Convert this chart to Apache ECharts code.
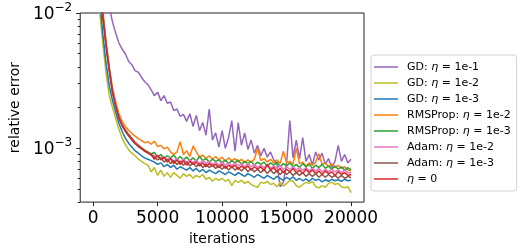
<!DOCTYPE html>
<html>
<head>
<meta charset="utf-8">
<script src="https://cdn.jsdelivr.net/npm/echarts@6/dist/echarts.min.js"></script>
<style>html,body{margin:0;padding:0;background:#fff}#c{width:523px;height:251px}</style>
</head>
<body>
<div id="c"></div>
<script>
const iterations = [0,250,500,750,1000,1250,1500,1750,2000,2250,2500,2750,3000,3250,3500,3750,4000,4250,4500,4750,5000,5250,5500,5750,6000,6250,6500,6750,7000,7250,7500,7750,8000,8250,8500,8750,9000,9250,9500,9750,10000,10250,10500,10750,11000,11250,11500,11750,12000,12250,12500,12750,13000,13250,13500,13750,14000,14250,14500,14750,15000,15250,15500,15750,16000,16250,16500,16750,17000,17250,17500,17750,18000,18250,18500,18750,19000,19250,19500,19750,20000];

const gd_1e1 = [0.06,0.04,0.028,0.02,0.0148,0.0112,8.6e-3,7.1e-3,6.0e-3,5.4e-3,5.0e-3,4.4e-3,4.15e-3,3.75e-3,3.65e-3,3.35e-3,3.1e-3,2.95e-3,2.7e-3,2.45e-3,2.6e-3,2.25e-3,2.45e-3,2.15e-3,2.2e-3,1.9e-3,1.95e-3,1.72e-3,1.78e-3,1.58e-3,1.8e-3,1.45e-3,1.75e-3,1.35e-3,1.55e-3,1.25e-3,1.95e-3,1.15e-3,1.3e-3,1.02e-3,1.35e-3,1.0e-3,1.2e-3,1.6e-3,0.95e-3,1.55e-3,1.05e-3,1.3e-3,0.98e-3,1.15e-3,9.2e-4,1.05e-3,8.8e-4,1.0e-3,8.6e-4,9.4e-4,8.2e-4,7.6e-4,5.2e-4,5.6e-4,7.8e-4,1.6e-3,8.5e-4,1.15e-3,8.4e-4,1.2e-3,8.0e-4,9.0e-4,7.5e-4,9.4e-4,8.2e-4,9.2e-4,7.6e-4,8.4e-4,7.2e-4,8.0e-4,1.05e-3,8.0e-4,9.0e-4,7.8e-4,8.3e-4];

const gd_1e2 = [0.05,0.022,0.0105,6.0e-3,3.6e-3,2.45e-3,2.0e-3,1.66e-3,1.38e-3,1.19e-3,1.06e-3,9.8e-4,9.2e-4,8.8e-4,8.3e-4,8.0e-4,7.7e-4,7.5e-4,6.7e-4,7.2e-4,6.3e-4,6.9e-4,6.2e-4,6.6e-4,6.1e-4,6.6e-4,6.3e-4,6.0e-4,6.5e-4,6.2e-4,6.4e-4,6.0e-4,6.3e-4,6.1e-4,6.4e-4,5.9e-4,6.1e-4,5.7e-4,6.0e-4,5.8e-4,6.0e-4,5.7e-4,5.9e-4,5.3e-4,5.8e-4,5.6e-4,5.8e-4,5.5e-4,5.7e-4,5.4e-4,5.25e-4,5.15e-4,5.6e-4,5.5e-4,5.7e-4,5.4e-4,5.5e-4,5.2e-4,5.6e-4,5.25e-4,5.5e-4,5.8e-4,5.7e-4,5.3e-4,5.15e-4,5.4e-4,5.6e-4,5.5e-4,5.7e-4,5.2e-4,5.1e-4,5.3e-4,5.15e-4,5.5e-4,5.6e-4,5.4e-4,5.5e-4,5.2e-4,5.1e-4,5.2e-4,4.7e-4];

const gd_1e3 = [0.06,0.028,0.013,7.0e-3,4.3e-3,2.9e-3,2.25e-3,1.85e-3,1.53e-3,1.33e-3,1.19e-3,1.09e-3,1.02e-3,9.6e-4,9.2e-4,8.8e-4,8.5e-4,8.3e-4,8.1e-4,7.9e-4,7.6e-4,7.8e-4,7.3e-4,7.6e-4,7.2e-4,7.5e-4,7.0e-4,7.3e-4,7.1e-4,6.9e-4,7.2e-4,6.8e-4,7.1e-4,6.7e-4,7.0e-4,6.6e-4,6.9e-4,6.7e-4,6.5e-4,6.8e-4,6.6e-4,6.4e-4,6.7e-4,6.5e-4,6.3e-4,6.6e-4,6.4e-4,6.2e-4,6.5e-4,6.3e-4,6.1e-4,6.4e-4,6.2e-4,6.0e-4,6.3e-4,6.1e-4,5.9e-4,6.2e-4,6.0e-4,5.8e-4,6.1e-4,5.9e-4,6.15e-4,5.8e-4,6.0e-4,5.75e-4,5.95e-4,5.7e-4,6.0e-4,5.8e-4,5.9e-4,5.65e-4,5.85e-4,5.7e-4,5.9e-4,5.75e-4,5.85e-4,5.7e-4,5.9e-4,5.75e-4,5.8e-4];

const rms_1e2 = [0.09,0.045,0.021,0.0105,6.2e-3,4.0e-3,2.8e-3,2.2e-3,1.8e-3,1.58e-3,1.45e-3,1.36e-3,1.29e-3,1.23e-3,1.18e-3,1.14e-3,1.10e-3,1.12e-3,1.07e-3,1.13e-3,1.03e-3,1.05e-3,9.9e-4,1.02e-3,9.4e-4,9.0e-4,9.4e-4,1.12e-3,9.0e-4,9.6e-4,8.7e-4,1.04e-3,9.4e-4,8.6e-4,8.9e-4,8.4e-4,8.8e-4,8.3e-4,8.7e-4,8.2e-4,8.6e-4,8.0e-4,8.5e-4,8.1e-4,8.4e-4,7.9e-4,8.3e-4,7.8e-4,8.2e-4,7.9e-4,8.3e-4,1.0e-3,8.1e-4,8.4e-4,7.9e-4,8.3e-4,7.8e-4,8.2e-4,7.7e-4,9.5e-4,7.8e-4,8.0e-4,7.6e-4,1.0e-3,7.7e-4,7.9e-4,7.4e-4,7.8e-4,7.5e-4,7.9e-4,9.1e-4,7.6e-4,7.8e-4,7.3e-4,7.7e-4,7.2e-4,7.5e-4,7.1e-4,7.3e-4,6.9e-4,6.8e-4];

const rms_1e3 = [0.085,0.042,0.02,0.0100,6.0e-3,3.9e-3,2.7e-3,2.1e-3,1.72e-3,1.5e-3,1.37e-3,1.27e-3,1.19e-3,1.11e-3,1.06e-3,1.01e-3,9.7e-4,9.4e-4,9.1e-4,9.3e-4,8.6e-4,9.0e-4,8.4e-4,8.8e-4,8.5e-4,8.9e-4,8.3e-4,8.7e-4,8.2e-4,8.6e-4,8.1e-4,8.5e-4,8.0e-4,8.7e-4,8.1e-4,8.4e-4,7.9e-4,8.3e-4,8.0e-4,8.2e-4,7.8e-4,8.2e-4,7.7e-4,8.1e-4,7.8e-4,8.2e-4,7.6e-4,8.0e-4,7.7e-4,8.0e-4,7.5e-4,7.9e-4,7.6e-4,7.9e-4,7.4e-4,7.8e-4,7.5e-4,7.9e-4,7.3e-4,7.7e-4,7.4e-4,7.8e-4,7.3e-4,7.6e-4,7.2e-4,7.7e-4,7.3e-4,7.6e-4,7.1e-4,7.5e-4,7.2e-4,7.6e-4,7.1e-4,7.4e-4,7.0e-4,7.4e-4,7.0e-4,7.3e-4,6.9e-4,7.2e-4,6.9e-4];

const adam_1e2 = [0.082,0.041,0.0195,0.0098,5.9e-3,3.85e-3,2.65e-3,2.08e-3,1.7e-3,1.49e-3,1.36e-3,1.26e-3,1.18e-3,1.1e-3,1.05e-3,1.0e-3,9.6e-4,9.3e-4,9.0e-4,8.8e-4,8.7e-4,8.4e-4,8.6e-4,8.2e-4,8.5e-4,8.0e-4,8.4e-4,7.9e-4,8.3e-4,7.9e-4,8.2e-4,7.8e-4,8.2e-4,7.7e-4,8.1e-4,7.7e-4,8.0e-4,7.6e-4,7.9e-4,7.5e-4,7.9e-4,7.5e-4,7.8e-4,7.4e-4,7.8e-4,7.4e-4,7.7e-4,7.3e-4,7.7e-4,7.3e-4,7.6e-4,7.2e-4,7.5e-4,7.2e-4,7.5e-4,7.1e-4,7.4e-4,7.1e-4,7.4e-4,7.0e-4,7.3e-4,7.0e-4,7.3e-4,6.9e-4,7.2e-4,6.9e-4,7.2e-4,6.8e-4,7.1e-4,6.8e-4,7.1e-4,6.7e-4,7.0e-4,6.7e-4,7.0e-4,6.7e-4,6.9e-4,6.6e-4,6.9e-4,6.6e-4,6.6e-4];

const adam_1e3 = [0.08,0.04,0.019,0.0095,5.75e-3,3.75e-3,2.58e-3,2.03e-3,1.66e-3,1.46e-3,1.33e-3,1.23e-3,1.15e-3,1.08e-3,1.03e-3,9.9e-4,9.5e-4,9.2e-4,8.9e-4,8.6e-4,8.2e-4,8.5e-4,7.9e-4,8.3e-4,7.7e-4,8.1e-4,7.6e-4,8.0e-4,7.5e-4,7.9e-4,7.4e-4,7.8e-4,7.3e-4,7.7e-4,7.2e-4,7.6e-4,7.2e-4,7.5e-4,7.1e-4,7.4e-4,7.0e-4,7.4e-4,6.9e-4,7.3e-4,6.9e-4,7.2e-4,6.8e-4,7.2e-4,6.7e-4,7.1e-4,6.7e-4,7.0e-4,6.6e-4,7.0e-4,6.5e-4,6.9e-4,6.5e-4,6.8e-4,6.4e-4,6.8e-4,6.4e-4,6.7e-4,6.3e-4,6.6e-4,6.3e-4,6.6e-4,6.2e-4,6.5e-4,6.2e-4,6.5e-4,6.1e-4,6.4e-4,6.1e-4,6.4e-4,6.1e-4,6.3e-4,6.0e-4,6.3e-4,6.0e-4,6.2e-4,6.05e-4];

const eta_0 = [0.08,0.04,0.019,0.0095,5.8e-3,3.8e-3,2.6e-3,2.05e-3,1.68e-3,1.48e-3,1.35e-3,1.25e-3,1.17e-3,1.09e-3,1.04e-3,1.0e-3,9.6e-4,9.3e-4,9.0e-4,8.3e-4,8.9e-4,8.2e-4,8.6e-4,7.9e-4,8.4e-4,7.7e-4,8.2e-4,7.6e-4,8.1e-4,7.5e-4,8.0e-4,7.6e-4,7.9e-4,7.4e-4,7.8e-4,7.3e-4,7.7e-4,7.4e-4,7.6e-4,7.2e-4,7.6e-4,7.1e-4,7.5e-4,7.2e-4,7.5e-4,7.0e-4,7.4e-4,7.1e-4,7.4e-4,6.9e-4,7.3e-4,7.0e-4,7.3e-4,6.8e-4,7.6e-4,6.9e-4,7.2e-4,6.7e-4,7.1e-4,6.6e-4,7.0e-4,6.7e-4,7.1e-4,6.6e-4,6.9e-4,6.5e-4,7.0e-4,6.6e-4,6.9e-4,6.5e-4,6.8e-4,6.4e-4,6.8e-4,6.5e-4,6.7e-4,6.3e-4,6.7e-4,6.4e-4,6.6e-4,6.3e-4,6.4e-4];

const seriesNames = ['GD: {i|η} = 1e-1','GD: {i|η} = 1e-2','GD: {i|η} = 1e-3','RMSProp: {i|η} = 1e-2','RMSProp: {i|η} = 1e-3','Adam: {i|η} = 1e-2','Adam: {i|η} = 1e-3','{i|η} = 0'];
const seriesData = [gd_1e1, gd_1e2, gd_1e3, rms_1e2, rms_1e3, adam_1e2, adam_1e3, eta_0];
const colors = ['#9467bd','#bcbd22','#1f77b4','#ff7f0e','#2ca02c','#e377c2','#8c564b','#d62728'];
const xTicks = [0,5000,10000,15000,20000];
const yMajorTicks = [1e-3, 1e-2];
const yMinorTicks = [4e-4,5e-4,6e-4,7e-4,8e-4,9e-4,2e-3,3e-3,4e-3,5e-3,6e-3,7e-3,8e-3,9e-3];

const FONT = 'DejaVu Sans';
const chart = echarts.init(document.getElementById('c'), null, {renderer: 'canvas'});

const series = seriesData.map((vals, k) => ({
  name: seriesNames[k],
  type: 'line',
  data: iterations.map((it, i) => [it, vals[i]]),
  symbol: 'none',
  showSymbol: false,
  lineStyle: {color: colors[k], width: 1.5},
  itemStyle: {color: colors[k]},
  emphasis: {disabled: true},
  animation: false,
  clip: true,
  z: 2 + k
}));

const expLabel = v => {
  const e = Math.round(Math.log10(v));
  return '{b|10}{s|−' + Math.abs(e) + '}';
};

chart.setOption({
  animation: false,
  textStyle: {fontFamily: FONT},
  grid: {left: 70, right: 159, top: 13, bottom: 47, show: true, borderColor: '#222', borderWidth: 1, backgroundColor: 'transparent'},
  legend: {
    orient: 'vertical',
    left: 371, top: 55,
    padding: [6, 6, 6, 3],
    icon: 'rect',
    itemWidth: 24, itemHeight: 1.5, itemGap: 4,
    backgroundColor: 'rgba(255,255,255,0.8)',
    borderColor: '#d0d0d0', borderWidth: 1, borderRadius: 3,
    data: seriesNames,
    textStyle: {
      fontFamily: FONT, fontSize: 11, color: '#000', padding: [0, 0, 0, 4], lineHeight: 12,
      rich: {i: {fontFamily: FONT, fontSize: 11, fontStyle: 'italic', color: '#000'}}
    },
    formatter: n => n,
    selectedMode: false
  },
  xAxis: {
    type: 'value', min: -1000, max: 21000,
    splitLine: {show: false},
    axisLine: {show: false, onZero: false},
    axisTick: {show: true, inside: false, length: 4, lineStyle: {color: '#222'}, customValues: xTicks},
    axisLabel: {show: true, fontSize: 17, color: '#000', margin: 8, fontFamily: FONT, customValues: xTicks, formatter: v => String(v)},
    name: 'iterations', nameLocation: 'middle', nameGap: 26,
    nameTextStyle: {fontSize: 14, color: '#000', fontFamily: FONT}
  },
  yAxis: [{
    type: 'log', logBase: 10, min: 4e-4, max: 1e-2, position: 'left',
    splitLine: {show: false},
    axisLine: {show: false, onZero: false},
    axisTick: {show: true, inside: false, length: 4, lineStyle: {color: '#222'}, customValues: yMajorTicks},
    axisLabel: {
      show: true, margin: 8, color: '#000', customValues: yMajorTicks,
      formatter: expLabel,
      rich: {
        b: {fontSize: 17, fontFamily: FONT, color: '#000', verticalAlign: 'bottom', lineHeight: 20},
        s: {fontSize: 12, fontFamily: FONT, color: '#000', verticalAlign: 'bottom', padding: [0, 0, 9, 0], lineHeight: 12}
      }
    },
    name: 'relative error', nameLocation: 'middle', nameGap: 56,
    nameTextStyle: {fontSize: 14, color: '#000', fontFamily: FONT}
  }, {
    type: 'log', logBase: 10, min: 4e-4, max: 1e-2, position: 'left',
    splitLine: {show: false},
    axisLine: {show: false, onZero: false},
    axisTick: {show: true, inside: false, length: 2.5, lineStyle: {color: '#222'}, customValues: yMinorTicks},
    axisLabel: {show: false}
  }],
  series: series
});
</script>
</body>
</html>
